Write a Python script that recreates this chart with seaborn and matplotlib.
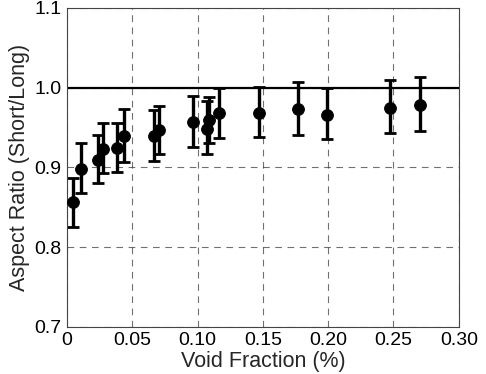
import numpy as np
import pandas as pd
import matplotlib
matplotlib.use("Agg")
import matplotlib.pyplot as plt
import seaborn as sns

# ========== DATA ==========
void_fraction = [0.0046, 0.0107, 0.0237, 0.0275, 0.038, 0.0436, 0.0666, 0.0704,
                 0.0964, 0.107, 0.109, 0.1165, 0.147, 0.177, 0.199, 0.247, 0.270]
aspect_ratio = [0.856, 0.898, 0.909, 0.923, 0.924, 0.939, 0.939, 0.947,
                0.957, 0.948, 0.960, 0.968, 0.968, 0.973, 0.966, 0.975, 0.978]
err_upper = [0.887, 0.931, 0.940, 0.955, 0.956, 0.973, 0.972, 0.977,
             0.990, 0.983, 0.988, 1.000, 1.001, 1.007, 1.000, 1.010, 1.013]
err_lower = [0.825, 0.868, 0.880, 0.893, 0.894, 0.907, 0.908, 0.917,
             0.926, 0.917, 0.931, 0.937, 0.938, 0.941, 0.936, 0.943, 0.946]
x_ticks = [0, 0.05, 0.10, 0.15, 0.20, 0.25, 0.30]
x_tick_labels = ["0", "0.05", "0.10", "0.15", "0.20", "0.25", "0.30"]
y_ticks = [0.7, 0.8, 0.9, 1.0, 1.1]
y_tick_labels = ["0.7", "0.8", "0.9", "1.0", "1.1"]

df = pd.DataFrame({"void": void_fraction, "ratio": aspect_ratio,
                   "hi": err_upper, "lo": err_lower})

sns.set_style("white")
plt.rcParams["font.family"] = ["Liberation Sans", "DejaVu Sans"]

fig = plt.figure(figsize=(4.86, 3.74), dpi=100)
ax = fig.add_axes([0.138, 0.126, 0.806, 0.853])

# reference line at 1.0
ax.axhline(1.0, color="black", lw=1.6, zorder=1)

# error bars
yerr = np.vstack([df["ratio"] - df["lo"], df["hi"] - df["ratio"]])
ax.errorbar(df["void"], df["ratio"], yerr=yerr, fmt="none", ecolor="black",
            elinewidth=2.4, capsize=4.5, capthick=2, zorder=2)

# points
sns.scatterplot(data=df, x="void", y="ratio", ax=ax, color="black",
                s=72, edgecolor="black", zorder=3, legend=False)

ax.set_xlim(0, 0.30)
ax.set_ylim(0.7, 1.1)
ax.set_xticks(x_ticks)
ax.set_xticklabels(x_tick_labels)
ax.set_yticks(y_ticks)
ax.set_yticklabels(y_tick_labels)
ax.grid(True, color="#333333", linestyle=(0, (6, 5)), lw=0.8, alpha=0.7)
ax.tick_params(direction="in", length=0, labelsize=14, colors="black", pad=4)
for sp in ax.spines.values():
    sp.set_color("#444444")
    sp.set_linewidth(0.8)

ax.set_xlabel("Void Fraction (%)", fontsize=15.5, labelpad=1)
ax.set_ylabel("Aspect Ratio (Short/Long)", fontsize=15.5, labelpad=3)

fig.savefig("out.png", dpi=100)
plt.close(fig)
